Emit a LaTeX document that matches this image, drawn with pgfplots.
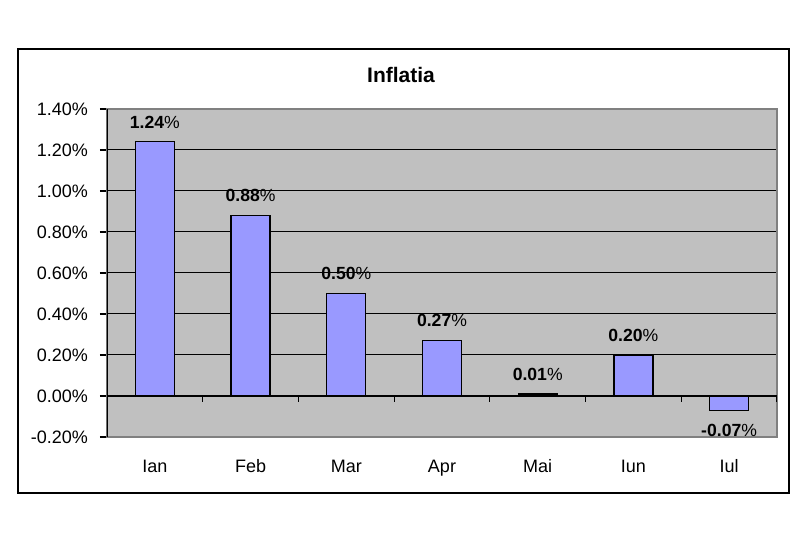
\documentclass[border=0pt]{standalone}
\usepackage{pgfplots}
\pgfplotsset{compat=1.18}
\usepackage{fontspec}
\setmainfont{Liberation Sans}
\definecolor{barblue}{HTML}{9999FF}
\definecolor{plotgray}{HTML}{C0C0C0}
\definecolor{bordergray}{HTML}{808080}
\begin{document}
\begin{tikzpicture}[x=1pt,y=1pt]
\path[use as bounding box] (0,0) rectangle (400,267);
\draw[black,line width=0.7pt] (9,20.5) rectangle (394.5,242.5);
\begin{axis}[
  at={(53.5pt,48.5pt)}, anchor=south west,
  scale only axis, width=335pt, height=164pt,
  xmin=-0.5, xmax=6.5, ymin=-0.2, ymax=1.4,
  /pgf/number format/assume math mode=true,
  axis background/.style={fill=plotgray},
  axis line style={draw=bordergray, line width=0.8pt},
  ytick={-0.2,0,0.2,0.4,0.6,0.8,1.0,1.2,1.4},
  yticklabel={\pgfmathprintnumber[fixed,fixed zerofill,precision=2]{\tick}\%},
  ymajorgrids, grid style={black, line width=0.5pt},
  ytick pos=left, tick align=outside,
  y tick style={black, line width=0.6pt}, major tick length=3.5pt,
  xtick={0,1,2,3,4,5,6}, xticklabels={Ian,Feb,Mar,Apr,Mai,Iun,Iul},
  x tick style={draw=none},
  xticklabel style={text height=6.5pt, text depth=0pt, yshift=-4pt},
  yticklabel style={xshift=-2.5pt},
  tick label style={font=\fontsize{9}{10}\selectfont},
  ybar, bar width=19.5pt,
  nodes near coords={\textbf{\pgfmathprintnumber[fixed,fixed zerofill,precision=2]{\pgfplotspointmeta}}\%},
  nodes near coords style={font=\fontsize{8.8}{10}\selectfont, inner ysep=6.5pt, inner xsep=0pt},
]
\addplot[fill=barblue, draw=black, line width=0.6pt] coordinates {(0,1.24) (1,0.88) (2,0.50) (3,0.27) (4,0.01) (5,0.20) (6,-0.07)};
\draw[black, line width=0.6pt] (axis cs:-0.5,0) -- (axis cs:6.5,0);
\pgfplotsinvokeforeach{0.5,1.5,2.5,3.5,4.5,5.5,6.5}{
  \draw[black, line width=0.6pt] (axis cs:#1,0) -- ++(0pt,-3pt);
}
\draw[black,line width=0.7pt] (rel axis cs:0,0) -- (rel axis cs:0,1);
\end{axis}
\node[font=\bfseries\fontsize{10.5}{12}\selectfont] at (200.5,229.5) {Inflatia};
\end{tikzpicture}
\end{document}
